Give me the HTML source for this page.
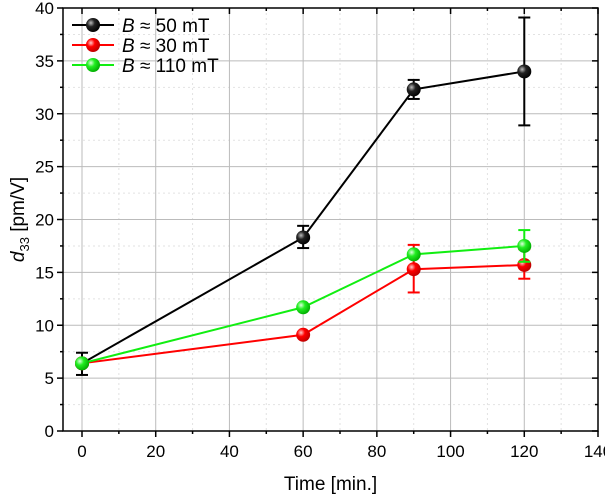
<!DOCTYPE html>
<html><head><meta charset="utf-8"><style>
body{margin:0;background:#fff}
svg{font-family:"Liberation Sans",Arial,sans-serif}
</style></head><body>
<svg id="chart" width="605" height="499">
<defs>
<radialGradient id="gk" cx="0.35" cy="0.35" r="0.7"><stop offset="0" stop-color="#bbb"/><stop offset="0.4" stop-color="#222"/><stop offset="1" stop-color="#000"/></radialGradient>
<radialGradient id="gr" cx="0.35" cy="0.35" r="0.7"><stop offset="0" stop-color="#fcc"/><stop offset="0.4" stop-color="#f00"/><stop offset="1" stop-color="#b00"/></radialGradient>
<radialGradient id="gg" cx="0.35" cy="0.35" r="0.7"><stop offset="0" stop-color="#dfd"/><stop offset="0.4" stop-color="#2e2"/><stop offset="1" stop-color="#0a0"/></radialGradient>
</defs>
<g id="grid"></g><g id="axes"></g><g id="series"></g><g id="legend"></g>
</svg>
<script>
const xValues=[0,60,90,120];
const blackY=[6.4,18.3,32.3,34.0];
const blackLo=[5.3,17.3,31.4,28.9];
const blackHi=[7.4,19.4,33.2,39.1];
const redY=[6.4,9.1,15.3,15.7];
const redLo=[6.4,9.1,13.1,14.4];
const redHi=[6.4,9.1,17.6,17.2];
const greenY=[6.4,11.7,16.7,17.5];
const greenLo=[6.4,11.7,16.7,16.0];
const greenHi=[6.4,11.7,16.7,19.0];
const xTicks=[0,20,40,60,80,100,120,140];
const yTicks=[0,5,10,15,20,25,30,35,40];
const legendLabels=["50 mT","30 mT","110 mT"];

const L=63,R=598,T=8,B=431;
const X=v=>82+(v)*(598-82)/140;
const Y=v=>B-(v)*(B-T)/40;
const NS="http://www.w3.org/2000/svg";
function mk(p,tag,a){const e=document.createElementNS(NS,tag);for(const k in a)e.setAttribute(k,a[k]);p.appendChild(e);return e;}
const grid=document.getElementById('grid'),axes=document.getElementById('axes'),ser=document.getElementById('series'),leg=document.getElementById('legend');
for(let v=10;v<140;v+=20){const l=mk(grid,'line',{x1:X(v),x2:X(v),y1:T,y2:B,stroke:'#e2e2e2','stroke-dasharray':'2,3'});

}
for(let v=2.5;v<40;v+=5){const l=mk(grid,'line',{x1:L,x2:R,y1:Y(v),y2:Y(v),stroke:'#e2e2e2','stroke-dasharray':'2,3'});

}
xTicks.forEach(v=>{const l=mk(grid,'line',{x1:X(v),x2:X(v),y1:T,y2:B,stroke:'#bbb'});


mk(axes,'line',{x1:X(v),x2:X(v),y1:B,y2:B+6,stroke:'#000','stroke-width':1.5});
mk(axes,'line',{x1:X(v),x2:X(v),y1:T,y2:T+6,stroke:'#000','stroke-width':1.5});
const t=mk(axes,'text',{x:X(v),y:457,'text-anchor':'middle','font-size':17});t.textContent=v;

});
yTicks.forEach(v=>{const l=mk(grid,'line',{x1:L,x2:R,y1:Y(v),y2:Y(v),stroke:'#bbb'});


mk(axes,'line',{x1:L-6,x2:L,y1:Y(v),y2:Y(v),stroke:'#000','stroke-width':1.5});
mk(axes,'line',{x1:R-6,x2:R,y1:Y(v),y2:Y(v),stroke:'#000','stroke-width':1.5});
const t=mk(axes,'text',{x:L-9,y:Y(v)+6,'text-anchor':'end','font-size':17});t.textContent=v;

});
for(let v=10;v<140;v+=20){mk(axes,'line',{x1:X(v),x2:X(v),y1:B,y2:B+3,stroke:'#000','stroke-width':1.5});mk(axes,'line',{x1:X(v),x2:X(v),y1:T,y2:T+3,stroke:'#000','stroke-width':1.5});}
for(let v=2.5;v<40;v+=5){mk(axes,'line',{x1:L-3,x2:L,y1:Y(v),y2:Y(v),stroke:'#000','stroke-width':1.5});mk(axes,'line',{x1:R-3,x2:R,y1:Y(v),y2:Y(v),stroke:'#000','stroke-width':1.5});}
const fr=mk(axes,'rect',{x:L,y:T,width:R-L,height:B-T,fill:'none',stroke:'#000','stroke-width':1.5});


const xt=mk(axes,'text',{x:(L+R)/2,y:490,'text-anchor':'middle','font-size':19});xt.textContent='Time [min.]';


const yt=mk(axes,'text',{x:0,y:0,'text-anchor':'middle','font-size':19,transform:`translate(24,${(T+B)/2}) rotate(-90)`});
yt.innerHTML='<tspan font-style="italic">d</tspan><tspan font-size="13" dy="5">33</tspan><tspan dy="-5"> [pm/V]</tspan>';



const series=[[blackY,blackLo,blackHi,'#000','url(#gk)','black'],[redY,redLo,redHi,'#f00','url(#gr)','red'],[greenY,greenLo,greenHi,'#1e1','url(#gg)','green']];
series.forEach(([ys,lo,hi,c,g,n])=>{
const pl=mk(ser,'polyline',{points:xValues.map((x,i)=>X(x)+','+Y(ys[i])).join(' '),fill:'none',stroke:c,'stroke-width':2});


xValues.forEach((x,i)=>{if(hi[i]-lo[i]>0.01){const eg=mk(ser,'g',{stroke:c,'stroke-width':2});


mk(eg,'line',{x1:X(x),x2:X(x),y1:Y(lo[i]),y2:Y(hi[i])});
mk(eg,'line',{x1:X(x)-6,x2:X(x)+6,y1:Y(lo[i]),y2:Y(lo[i])});
mk(eg,'line',{x1:X(x)-6,x2:X(x)+6,y1:Y(hi[i]),y2:Y(hi[i])});}});
xValues.forEach((x,i)=>{const m=mk(ser,'circle',{cx:X(x),cy:Y(ys[i]),r:7,fill:g});

});
});
series.forEach(([ys,lo,hi,c,g,n],i)=>{const y=25+i*20;
const lg=mk(leg,'g',{});


mk(lg,'line',{x1:72,x2:114,y1:y,y2:y,stroke:c,'stroke-width':2});
mk(lg,'circle',{cx:93,cy:y,r:7,fill:g});
const t=mk(lg,'text',{x:122,y:y+7,'font-size':19});
t.innerHTML='<tspan font-style="italic">B</tspan> ≈ '+legendLabels[i];});
</script>
</body></html>
